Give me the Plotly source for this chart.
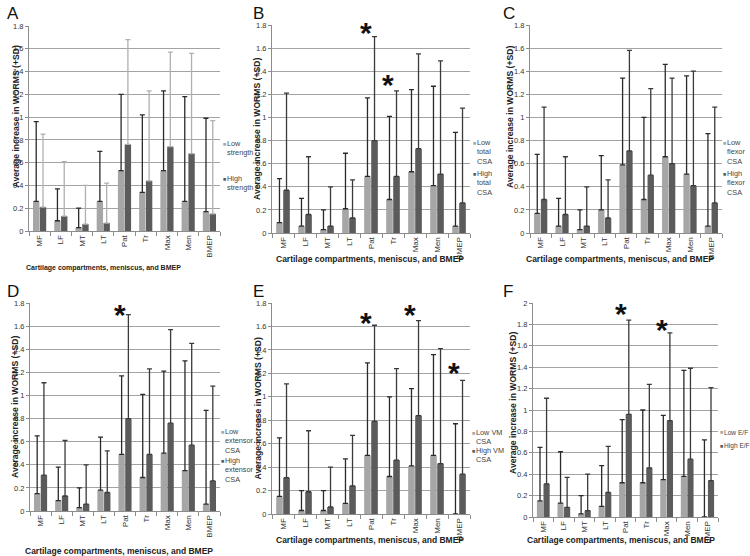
import plotly.graph_objects as go

categories = ["MF", "LF", "MT", "LT", "Pat", "Tr", "Max", "Men", "BMEP"]

# Panel A: strength
a_low = [0.26, 0.09, 0.03, 0.26, 0.53, 0.34, 0.53, 0.26, 0.17]
a_low_top = [0.96, 0.37, 0.20, 0.70, 1.20, 1.02, 1.23, 1.18, 0.99]
a_high = [0.21, 0.13, 0.06, 0.07, 0.76, 0.44, 0.74, 0.68, 0.15]
a_high_top = [0.85, 0.61, 0.40, 0.42, 1.68, 1.23, 1.57, 1.56, 0.97]

# Panel B: total CSA
b_low = [0.09, 0.06, 0.03, 0.21, 0.49, 0.29, 0.53, 0.41, 0.06]
b_low_top = [0.47, 0.30, 0.20, 0.69, 1.17, 1.01, 1.24, 1.27, 0.87]
b_high = [0.37, 0.16, 0.06, 0.13, 0.80, 0.49, 0.73, 0.51, 0.26]
b_high_top = [1.21, 0.66, 0.40, 0.46, 1.70, 1.23, 1.55, 1.49, 1.08]

# Panel C: flexor CSA
c_low = [0.17, 0.06, 0.03, 0.20, 0.59, 0.29, 0.66, 0.51, 0.06]
c_low_top = [0.68, 0.30, 0.20, 0.67, 1.34, 1.00, 1.46, 1.36, 0.86]
c_high = [0.29, 0.16, 0.06, 0.13, 0.71, 0.50, 0.60, 0.41, 0.26]
c_high_top = [1.09, 0.66, 0.40, 0.46, 1.58, 1.25, 1.34, 1.40, 1.09]

# Panel D: extensor CSA
d_low = [0.15, 0.09, 0.03, 0.18, 0.49, 0.29, 0.50, 0.35, 0.06]
d_low_top = [0.65, 0.38, 0.20, 0.64, 1.17, 1.01, 1.21, 1.30, 0.87]
d_high = [0.31, 0.13, 0.06, 0.16, 0.80, 0.49, 0.76, 0.57, 0.26]
d_high_top = [1.11, 0.61, 0.40, 0.52, 1.70, 1.23, 1.57, 1.45, 1.08]

# Panel E: VM CSA
e_low = [0.15, 0.03, 0.03, 0.09, 0.50, 0.32, 0.41, 0.50, 0.00]
e_low_top = [0.65, 0.20, 0.20, 0.47, 1.29, 1.00, 1.07, 1.36, 0.77]
e_high = [0.31, 0.19, 0.06, 0.24, 0.79, 0.46, 0.84, 0.43, 0.34]
e_high_top = [1.11, 0.71, 0.40, 0.67, 1.61, 1.24, 1.65, 1.41, 1.14]

# Panel F: E/F ratio
f_low = [0.15, 0.13, 0.03, 0.10, 0.32, 0.32, 0.35, 0.38, 0.00]
f_low_top = [0.65, 0.61, 0.20, 0.48, 0.91, 1.00, 0.95, 1.37, 0.72]
f_high = [0.31, 0.09, 0.06, 0.23, 0.96, 0.46, 0.90, 0.54, 0.34]
f_high_top = [1.11, 0.37, 0.40, 0.66, 1.84, 1.24, 1.72, 1.39, 1.21]

a_legend = ["Low<br>strength", "High<br>strength"]
b_legend = ["Low<br>total<br>CSA", "High<br>total<br>CSA"]
c_legend = ["Low<br>flexor<br>CSA", "High<br>flexor<br>CSA"]
d_legend = ["Low<br>extensor<br>CSA", "High<br>extensor<br>CSA"]
e_legend = ["Low VM<br>CSA", "High VM<br>CSA"]
f_legend = ["Low E/F", "High E/F"]

b_stars = [("Pat", 1.76), ("Tr", 1.31)]
d_stars = [("Pat", 1.73)]
e_stars = [("Pat", 1.66), ("Max", 1.73), ("BMEP", 1.23)]
f_stars = [("Pat", 1.93), ("Max", 1.78)]

y_title = "Average increase in WORMS (+SD)"
x_title = "Cartilage compartments, meniscus, and BMEP"

W, H = 750, 556
LOW_C = "#a6a6a6"
HIGH_C = "#5b5b5b"
GRID_C = "#a3a3a3"
TXT_C = "#333333"
FONT = "Arial"

def px(x):
    return x / W

def py(y):
    return 1 - y / H

panels = [
    dict(letter="A", low=a_low, low_top=a_low_top, high=a_high, high_top=a_high_top,
         legend=a_legend, stars=[], box=(29, 220, 26, 231), ymax=1.8,
         letter_pos=(5, 14), ytitle_x=15, ytitle_off=-12, xtitle_y=268, xtitle_x=103, xtitle_size=7.0,
         leg=(222, 148, 183), leg_size=7.3, hi_err="#b0b0b0"),
    dict(letter="B", low=b_low, low_top=b_low_top, high=b_high, high_top=b_high_top,
         legend=b_legend, stars=b_stars, box=(272, 470, 25, 233), ymax=1.8,
         letter_pos=(251, 14), ytitle_x=257, ytitle_off=0, xtitle_y=259, xtitle_x=370, xtitle_size=8.5,
         leg=(472, 152, 183), leg_size=7.3, hi_err="#3a3a3a"),
    dict(letter="C", low=c_low, low_top=c_low_top, high=c_high, high_top=c_high_top,
         legend=c_legend, stars=[], box=(530, 722, 25, 233), ymax=1.8,
         letter_pos=(501, 14), ytitle_x=510, ytitle_off=-12, xtitle_y=259, xtitle_x=620, xtitle_size=8.5,
         leg=(722, 152, 183), leg_size=7.3, hi_err="#3a3a3a"),
    dict(letter="D", low=d_low, low_top=d_low_top, high=d_high, high_top=d_high_top,
         legend=d_legend, stars=d_stars, box=(30, 220, 303, 511), ymax=1.8,
         letter_pos=(5, 291), ytitle_x=15, ytitle_off=0, xtitle_y=551, xtitle_x=119, xtitle_size=8.5,
         leg=(220, 441, 470), leg_size=7.3, hi_err="#3a3a3a"),
    dict(letter="E", low=e_low, low_top=e_low_top, high=e_high, high_top=e_high_top,
         legend=e_legend, stars=e_stars, box=(272, 470, 303, 514), ymax=1.8,
         letter_pos=(251, 291), ytitle_x=257, ytitle_off=0, xtitle_y=540, xtitle_x=370, xtitle_size=8.5,
         leg=(471, 437, 455), leg_size=7.3, hi_err="#3a3a3a"),
    dict(letter="F", low=f_low, low_top=f_low_top, high=f_high, high_top=f_high_top,
         legend=f_legend, stars=f_stars, box=(533, 718, 303, 517), ymax=2.0,
         letter_pos=(501, 291), ytitle_x=513, ytitle_off=-7, xtitle_y=540, xtitle_x=621, xtitle_size=8.5,
         leg=(719, 432, 446), leg_size=6.6, hi_err="#3a3a3a"),
]

fig = go.Figure()
layout = dict(template="none", width=W, height=H, margin=dict(l=0, r=0, t=0, b=0, autoexpand=False),
              paper_bgcolor="white", plot_bgcolor="white", showlegend=False,
              barmode="group", bargap=0.36, bargroupgap=0.06,
              font=dict(family=FONT, color=TXT_C))
annotations = []

for i, p in enumerate(panels):
    n = i + 1
    xa = "x" if n == 1 else f"x{n}"
    ya = "y" if n == 1 else f"y{n}"
    xkey = "xaxis" if n == 1 else f"xaxis{n}"
    ykey = "yaxis" if n == 1 else f"yaxis{n}"
    x0, x1, y0, y1 = p["box"]
    low_err = [t - v for t, v in zip(p["low_top"], p["low"])]
    high_err = [t - v for t, v in zip(p["high_top"], p["high"])]
    fig.add_trace(go.Bar(x=categories, y=p["low"], marker_color=LOW_C, marker_line_width=0,
                         name=p["legend"][0].replace("<br>", " "), xaxis=xa, yaxis=ya,
                         error_y=dict(type="data", symmetric=False, array=low_err,
                                      arrayminus=[0] * 9, color="#2a2a2a", thickness=1.3, width=2.5)))
    fig.add_trace(go.Bar(x=categories, y=p["high"], marker_color=HIGH_C, marker_line_width=0,
                         name=p["legend"][1].replace("<br>", " "), xaxis=xa, yaxis=ya,
                         error_y=dict(type="data", symmetric=False, array=high_err,
                                      arrayminus=[0] * 9, color=p["hi_err"], thickness=1.3, width=2.5)))
    layout[xkey] = dict(domain=[px(x0), px(x1)], anchor=ya, automargin=False,
                        type="category", categoryarray=categories, categoryorder="array",
                        showline=True, linecolor="#8c8c8c", linewidth=1, showgrid=False, zeroline=False,
                        ticks="outside", tickson="boundaries", ticklen=4, tickcolor="#8c8c8c",
                        tickangle=-90, tickfont=dict(family="Arial", size=8, color=TXT_C))
    layout[ykey] = dict(domain=[py(y1), py(y0)], anchor=xa, range=[0, p["ymax"]], dtick=0.2,
                        automargin=False,
                        showgrid=True, gridcolor=GRID_C, gridwidth=1, zeroline=False,
                        showline=True, linecolor="#8c8c8c", linewidth=1,
                        ticks="outside", ticklen=3, tickcolor="#8c8c8c",
                        tickfont=dict(family="Arial", size=7.5, color=TXT_C))
    # panel letter
    annotations.append(dict(text=p["letter"], x=px(p["letter_pos"][0]), y=py(p["letter_pos"][1]),
                            xref="paper", yref="paper", xanchor="left", yanchor="middle",
                            showarrow=False, font=dict(size=17, color="#111111")))
    # y title
    annotations.append(dict(text="<b>" + y_title + "</b>", x=px(p["ytitle_x"]),
                            y=py((y0 + y1) / 2 + p["ytitle_off"]),
                            xref="paper", yref="paper", xanchor="center", yanchor="middle",
                            textangle=-90, showarrow=False, font=dict(size=8.6, color="#222222")))
    # x title
    annotations.append(dict(text="<b>" + x_title + "</b>", x=px(p["xtitle_x"]), y=py(p["xtitle_y"]),
                            xref="paper", yref="paper", xanchor="center", yanchor="middle",
                            showarrow=False, font=dict(size=p["xtitle_size"], color="#222222")))
    # legend
    lx, ly_low, ly_high = p["leg"]
    for txt, yy, col in [(p["legend"][0], ly_low, LOW_C), (p["legend"][1], ly_high, HIGH_C)]:
        nlines = txt.count("<br>") + 1
        annotations.append(dict(text="■", x=px(lx), y=py(yy - (nlines - 1) * 4.4), xref="paper", yref="paper",
                                xanchor="left", yanchor="middle", showarrow=False, borderpad=0,
                                font=dict(size=5.5, color=col)))
        annotations.append(dict(text=txt, x=px(lx + 4), y=py(yy), xref="paper", yref="paper",
                                xanchor="left", yanchor="middle", align="left", showarrow=False,
                                borderpad=0, font=dict(size=p["leg_size"], color="#444444")))
    # stars
    for cat, val in p["stars"]:
        annotations.append(dict(text="<b>*</b>", x=categories.index(cat), y=val, xref=xa, yref=ya,
                                xanchor="center", yanchor="middle", xshift=-5, yshift=-3,
                                showarrow=False, font=dict(size=30, color="#111111")))

layout["annotations"] = annotations
fig.update_layout(**layout)
fig.write_html("out.html", config={"displayModeBar": False, "staticPlot": True},
               post_script="document.body.style.margin='0';")
